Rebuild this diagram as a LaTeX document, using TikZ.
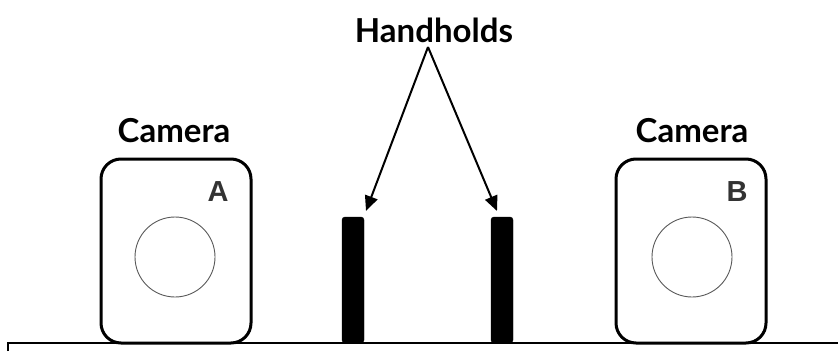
\documentclass[tikz,border=0pt]{standalone}
\usepackage{fontspec}
\setmainfont{Lato}
\newfontfamily\letterfont{Liberation Sans}
\usetikzlibrary{arrows.meta}
\definecolor{lettergray}{HTML}{333333}
\begin{document}
\begin{tikzpicture}[x=1pt,y=-1pt,
  camerabox/.style={draw=black, line width=3pt, rounded corners=20pt,
    minimum width=150pt, minimum height=184pt, inner sep=0pt},
  lens/.style={draw=black!65, line width=0.9pt, circle, minimum size=80pt, inner sep=0pt},
  bar/.style={fill=black, draw=black, rounded corners=3pt,
    minimum width=22pt, minimum height=126pt, inner sep=0pt},
  caption/.style={font=\bfseries\fontsize{33}{36}\selectfont, inner sep=0pt},
  camletter/.style={font=\letterfont\bfseries\fontsize{29}{32}\selectfont,
    text=lettergray, inner sep=0pt},
  pointer/.style={draw=black, line width=2pt, -{Triangle[length=15pt,width=13pt]}}
]
\useasboundingbox (0,0) rectangle (838,351);

% ground line with a short tick at its left end
\coordinate (g0) at (8,351);
\coordinate (g1) at (8,343);
\coordinate (g2) at (838,343);
\draw[line width=2pt] (g0) -- (g1) -- (g2);

% camera A
\node[camerabox] (camA) at (176,251) {};
\node[lens] (lensA) at (175,257) {};
\node[camletter] (letA) at (218,192) {A};
\node[caption] (capA) at (174,131) {Camera};

% camera B
\node[camerabox] (camB) at (691,251) {};
\node[lens] (lensB) at (692,257) {};
\node[camletter] (letB) at (737,192) {B};
\node[caption] (capB) at (692,131) {Camera};

% handholds
\node[bar] (barL) at (353,280) {};
\node[bar] (barR) at (502,280) {};

\node[caption] (hh) at (434,30) {Handholds};
\coordinate (apex) at (428,47);
\coordinate (tipL) at (366,211);
\coordinate (tipR) at (497,211);
\draw[pointer] (apex) -- (tipL);
\draw[pointer] (apex) -- (tipR);
\end{tikzpicture}
\end{document}
